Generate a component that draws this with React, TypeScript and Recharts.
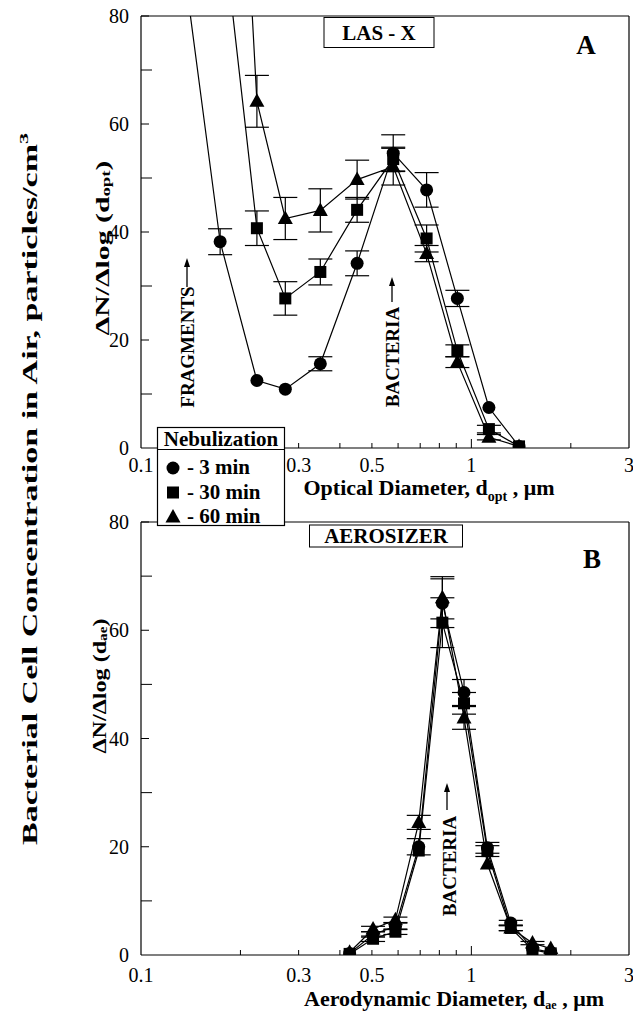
import React from 'react';
import { LineChart, Line, XAxis, YAxis, ErrorBar, ReferenceLine } from 'recharts';

// ---------- Panel A : LAS-X (optical diameter, µm) ----------
const lasDiameters = [0.137, 0.1736, 0.2243, 0.2734, 0.349, 0.451, 0.58, 0.732, 0.907, 1.13, 1.394];
const las3min = [86, 38.2, 12.5, 10.9, 15.6, 34.2, 54.6, 47.8, 27.7, 7.5, 0.3];
const las3minErr = [0, 2.4, 0, 0, 1.3, 2.3, 3.4, 3.2, 1.5, 0, 0];
const las30min = [null, 101, 40.7, 27.7, 32.6, 44.1, 53.5, 38.8, 18.0, 3.5, 0.3];
const las30minErr = [0, 0, 3.2, 3.1, 2.4, 2.3, 2.2, 2.5, 1.1, 0.7, 0];
const las60min = [null, 190, 64.2, 42.5, 44.0, 49.7, 52.1, 36.0, 15.9, 2.0, 0.3];
const las60minErr = [0, 0, 4.8, 3.9, 4.0, 3.6, 3.4, 1.5, 1.0, 0.5, 0];

// ---------- Panel B : Aerosizer (aerodynamic diameter, µm) ----------
const aeroDiameters = [0.428, 0.504, 0.589, 0.693, 0.817, 0.95, 1.118, 1.316, 1.531, 1.739];
const aero3min = [0.3, 3.8, 5.3, 20.0, 65.0, 48.5, 19.8, 5.9, 1.2, 0.5];
const aero3minErr = [0, 0.5, 0.6, 1.5, 4.5, 2.4, 1.0, 0.5, 0, 0];
const aero30min = [0.2, 3.0, 4.3, 19.3, 61.4, 46.5, 19.2, 5.0, 1.0, 0.3];
const aero30minErr = [0, 0.5, 0.5, 0, 4.6, 2.0, 1.0, 0.5, 0, 0];
const aero60min = [0.5, 4.8, 6.5, 24.5, 66.0, 43.8, 16.8, 5.0, 2.2, 1.2];
const aero60minErr = [0, 0.5, 0.5, 1.3, 3.9, 2.1, 0, 0.5, 0.3, 0];

// ---------- Axis ticks ----------
const xTicks = [0.1, 0.2, 0.3, 0.4, 0.5, 0.6, 0.7, 0.8, 0.9, 1, 2, 3];
const xTickLabels = [0.1, 0.3, 0.5, 1, 3];
const yTicks = [0, 10, 20, 30, 40, 50, 60, 70, 80];
const yTickLabels = [0, 20, 40, 60, 80];

const legendItems = ['- 3 min', '- 30 min', '- 60 min'];

const lasData = lasDiameters.map((d, i) => ({
  d,
  c: las3min[i], ce: las3minErr[i],
  s: las30min[i], se: las30minErr[i],
  t: las60min[i], te: las60minErr[i],
}));
const aeroData = aeroDiameters.map((d, i) => ({
  d,
  c: aero3min[i], ce: aero3minErr[i],
  s: aero30min[i], se: aero30minErr[i],
  t: aero60min[i], te: aero60minErr[i],
}));

const SERIF = "'Liberation Serif', 'Times New Roman', serif";

const CircleDot = (p: any) => {
  if (p.cx == null || p.cy == null) return <g key={`c${p.index}`} />;
  return <circle key={`c${p.index}`} cx={p.cx} cy={p.cy} r={6.5} fill="#000" />;
};
const SquareDot = (p: any) => {
  if (p.cx == null || p.cy == null) return <g key={`s${p.index}`} />;
  return <rect key={`s${p.index}`} x={p.cx - 6} y={p.cy - 6} width={12} height={12} fill="#000" />;
};
const TriDot = (p: any) => {
  if (p.cx == null || p.cy == null) return <g key={`t${p.index}`} />;
  const { cx, cy } = p;
  return (
    <polygon
      key={`t${p.index}`}
      points={`${cx},${cy - 8} ${cx - 7.5},${cy + 5.5} ${cx + 7.5},${cy + 5.5}`}
      fill="#000"
    />
  );
};

const makeXTick = (labelOffset: number) => (props: any) => {
  const { x, y, payload } = props;
  const v = payload.value;
  const len = v === 1 ? 9 : 5;
  const showTick = v !== 0.1 && v !== 3;
  return (
    <g>
      {showTick && <line x1={x} x2={x} y1={y} y2={y - len} stroke="#000" strokeWidth={1} />}
      {xTickLabels.includes(v) && (
        <text x={x} y={y + labelOffset} textAnchor="middle" fontFamily={SERIF} fontSize={20} fill="#000">
          {v}
        </text>
      )}
    </g>
  );
};

const YTick = (props: any) => {
  const { x, y, payload } = props;
  const v = payload.value;
  const major = yTickLabels.includes(v);
  return (
    <g>
      {v !== 0 && <line x1={x} x2={x + (major ? 8 : 11)} y1={y} y2={y} stroke="#000" strokeWidth={1} />}
      {major && (
        <text x={x - 12} y={y} dy="0.35em" textAnchor="end" fontFamily={SERIF} fontSize={20} fill="#000">
          {v}
        </text>
      )}
    </g>
  );
};

const Panel = ({ data, height, top, xAxisHeight, labelOffset }: any) => (
  <LineChart
    width={633}
    height={height}
    data={data}
    margin={{ top, right: 4, left: 0, bottom: 0 }}
  >
    <XAxis
      dataKey="d"
      type="number"
      scale="log"
      domain={[0.1, 3]}
      allowDataOverflow
      ticks={xTicks}
      interval={0}
      tickLine={false}
      tickSize={0}
      tickMargin={0}
      height={xAxisHeight}
      axisLine={{ stroke: '#000', strokeWidth: 1.2 }}
      tick={makeXTick(labelOffset)}
    />
    <YAxis
      type="number"
      domain={[0, 80]}
      allowDataOverflow
      ticks={yTicks}
      interval={0}
      tickLine={false}
      tickSize={0}
      tickMargin={0}
      width={141}
      axisLine={{ stroke: '#000', strokeWidth: 1.2 }}
      tick={YTick}
    />
    <ReferenceLine y={80} stroke="#000" strokeWidth={1.2} />
    <ReferenceLine x={3} stroke="#000" strokeWidth={1.2} />
    <Line dataKey="c" type="linear" stroke="#000" strokeWidth={1.2} dot={CircleDot} activeDot={false} isAnimationActive={false}>
      <ErrorBar dataKey="ce" width={12} stroke="#000" strokeWidth={1.2} direction="y" />
    </Line>
    <Line dataKey="s" type="linear" stroke="#000" strokeWidth={1.2} dot={SquareDot} activeDot={false} isAnimationActive={false}>
      <ErrorBar dataKey="se" width={12} stroke="#000" strokeWidth={1.2} direction="y" />
    </Line>
    <Line dataKey="t" type="linear" stroke="#000" strokeWidth={1.2} dot={TriDot} activeDot={false} isAnimationActive={false}>
      <ErrorBar dataKey="te" width={12} stroke="#000" strokeWidth={1.2} direction="y" />
    </Line>
  </LineChart>
);

const Arrow = ({ x, y1, y2 }: { x: number; y1: number; y2: number }) => (
  <g>
    <line x1={x} x2={x} y1={y1} y2={y2 + 6} stroke="#000" strokeWidth={1.3} />
    <polygon points={`${x},${y2} ${x - 3},${y2 + 9} ${x + 3},${y2 + 9}`} fill="#000" />
  </g>
);

const RotText = ({ x, y, size, length, children }: any) => (
  <text
    x={x}
    y={y}
    transform={`rotate(-90 ${x} ${y})`}
    textAnchor="middle"
    dominantBaseline="central"
    fontFamily={SERIF}
    fontWeight="bold"
    fontSize={size}
    fill="#000"
    {...(length ? { textLength: length, lengthAdjust: 'spacingAndGlyphs' } : {})}
  >
    {children}
  </text>
);

export default function App() {
  const bold = { fontFamily: SERIF, fontWeight: 'bold' as const, fill: '#000' };
  return (
    <div style={{ position: 'absolute', left: 0, top: 0, width: 633, height: 1012, background: '#fff', overflow: 'hidden' }}>
      <div style={{ position: 'absolute', left: 0, top: 0 }}>
        <Panel data={lasData} height={500} top={16} xAxisHeight={52} labelOffset={24} />
      </div>
      <div style={{ position: 'absolute', left: 0, top: 500 }}>
        <Panel data={aeroData} height={512} top={22} xAxisHeight={57} labelOffset={27} />
      </div>
      <svg
        width={633}
        height={1012}
        style={{ position: 'absolute', left: 0, top: 0, pointerEvents: 'none' }}
      >
        {/* Panel A annotations */}
        <rect x={324} y={17.5} width={110} height={30} fill="#fff" stroke="#000" strokeWidth={1} />
        <text x={379} y={40} textAnchor="middle" fontSize={21} {...bold}>LAS - X</text>
        <text x={586} y={54} textAnchor="middle" fontSize={27} {...bold}>A</text>
        <RotText x={187} y={347} size={19}>FRAGMENTS</RotText>
        <Arrow x={187} y1={287} y2={258} />
        <RotText x={392} y={357} size={19}>BACTERIA</RotText>
        <Arrow x={392} y1={302} y2={277} />
        <text x={429} y={495} textAnchor="middle" fontSize={22} {...bold}>
          Optical Diameter, d
          <tspan fontSize={14} dy={6}>opt</tspan>
          <tspan dy={-6}> , μm</tspan>
        </text>

        {/* Panel B annotations */}
        <rect x={309.5} y={525} width={153} height={22} fill="#fff" stroke="#000" strokeWidth={1} />
        <text x={386} y={543} textAnchor="middle" fontSize={21} {...bold}>AEROSIZER</text>
        <text x={592} y={568} textAnchor="middle" fontSize={27} {...bold}>B</text>
        <RotText x={449} y={866} size={19}>BACTERIA</RotText>
        <Arrow x={447} y1={810} y2={783} />
        <text x={454} y={1006} textAnchor="middle" fontSize={22} {...bold}>
          Aerodynamic Diameter, d
          <tspan fontSize={12} dy={3}>ae</tspan>
          <tspan dy={-3}> , μm</tspan>
        </text>

        {/* Y axis titles */}
        <RotText x={102} y={248} size={19} length={175}>
          ΔN/Δlog (d<tspan fontSize={12} dy={4}>opt</tspan><tspan dy={-4}>)</tspan>
        </RotText>
        <RotText x={99} y={686} size={19} length={135}>
          ΔN/Δlog (d<tspan fontSize={12} dy={4}>ae</tspan><tspan dy={-4}>)</tspan>
        </RotText>
        <RotText x={30} y={489} size={20} length={712}>
          Bacterial Cell Concentration in Air, particles/cm<tspan fontSize={13} dy={-7}>3</tspan>
        </RotText>

        {/* Legend */}
        <rect x={157.5} y={427.5} width={127} height={98} fill="#fff" stroke="#000" strokeWidth={1.2} />
        <line x1={157.5} x2={284.5} y1={449.5} y2={449.5} stroke="#000" strokeWidth={1.2} />
        <text x={221} y={446} textAnchor="middle" fontSize={21} {...bold}>Nebulization</text>
        <circle cx={173} cy={468} r={6.5} fill="#000" />
        <rect x={167} y={486.5} width={12} height={12} fill="#000" />
        <polygon points="173,509 165.5,522.5 180.5,522.5" fill="#000" />
        {legendItems.map((t, i) => (
          <text key={t} x={187} y={474 + i * 24.5} fontSize={21} {...bold}>{t}</text>
        ))}
      </svg>
    </div>
  );
}
